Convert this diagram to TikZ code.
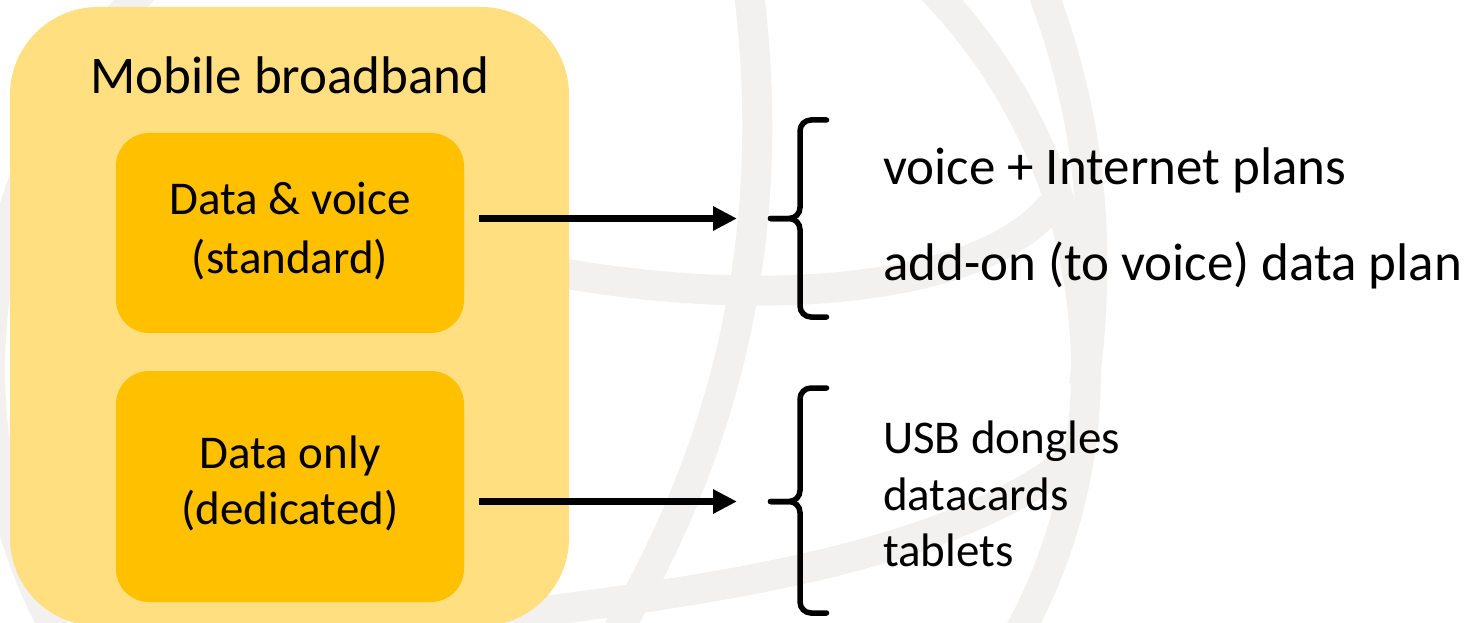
\documentclass[tikz,border=0pt]{standalone}
\usepackage{fontspec}
\setmainfont{Carlito}
\usetikzlibrary{arrows.meta}
\definecolor{outerY}{HTML}{FFDF80}
\definecolor{innerY}{HTML}{FFC000}
\definecolor{globeG}{HTML}{F2F1F0}
\begin{document}
\begin{tikzpicture}[x=1pt,y=-1pt,
  globe/.style={draw=globeG, line width=30pt},
  outerbox/.style={fill=outerY, rounded corners=88pt, inner sep=0},
  innerbox/.style={fill=innerY, rounded corners=33pt, inner sep=0, minimum width=348pt},
  bigtxt/.style={font=\fontsize{53}{64}\selectfont, inner sep=0},
  smalltxt/.style={font=\fontsize{47}{57}\selectfont, inner sep=0},
  arr/.style={line width=7pt, -{Triangle[length=24pt,width=23pt]}},
  bracestyle/.style={line width=5.5pt, rounded corners=11pt, line cap=round}]
\useasboundingbox (0,0) rectangle (1473,623);
\fill[white] (0,0) rectangle (1473,623);
% background globe watermark
\begin{scope}
  \clip (0,0) rectangle (1473,623);
  \draw[globe] (538,370) circle[radius=548pt];
  \draw[globe] (1040,-15) .. controls (1085,100) and (1105,230) .. (1084,385);
  \draw[globe] (300,200) .. controls (600,320) and (960,320) .. (1052,205);
  \draw[globe] (420,625) .. controls (700,595) and (950,560) .. (1076,455);
  \draw[globe] (748,-15) .. controls (772,170) and (757,400) .. (612,640);
\end{scope}
% boxes
\node[outerbox, minimum width=559pt, minimum height=619pt] (mb) at (289.5,316.5) {};
\node[innerbox, minimum height=200pt] (d1) at (290,233) {};
\node[innerbox, minimum height=231pt] (d2) at (290,486.5) {};
% texts in boxes
\node[bigtxt, anchor=base] (title) at (290,94) {Mobile broadband};
\node[smalltxt, anchor=base] (t1a) at (290,214.5) {Data \& voice};
\node[smalltxt, anchor=base] (t1b) at (290,273) {(standard)};
\node[smalltxt, anchor=base] (t2a) at (290,468) {Data only};
\node[smalltxt, anchor=base] (t2b) at (290,524.5) {(dedicated)};
% brace tips and arrow starts
\coordinate (b1tip) at (770.5,218.5);
\coordinate (b2tip) at (770.5,501.5);
\coordinate (a1s) at (479,218.5);
\coordinate (a2s) at (479,501.5);
\draw[arr] (a1s) -- ([xshift=-33.5pt]b1tip);
\draw[arr] (a2s) -- ([xshift=-33.5pt]b2tip);
% braces
\draw[bracestyle] (b1tip) -- (800,218.5) -- (800,120) -- (826.5,120);
\draw[bracestyle] (b1tip) -- (800,218.5) -- (800,317) -- (826.5,317);
\draw[bracestyle] (b2tip) -- (800,501.5) -- (800,388) -- (826.5,388);
\draw[bracestyle] (b2tip) -- (800,501.5) -- (800,613) -- (826.5,613);
% right texts
\node[bigtxt, anchor=base west] (r1) at (883,184) {voice + Internet plans};
\node[bigtxt, anchor=base west] (r2) at (883,280) {add-on (to voice) data plan};
\node[smalltxt, anchor=base west] (r3) at (883,453) {USB dongles};
\node[smalltxt, anchor=base west] (r4) at (883,510) {datacards};
\node[smalltxt, anchor=base west] (r5) at (883,566.5) {tablets};
\end{tikzpicture}
\end{document}
